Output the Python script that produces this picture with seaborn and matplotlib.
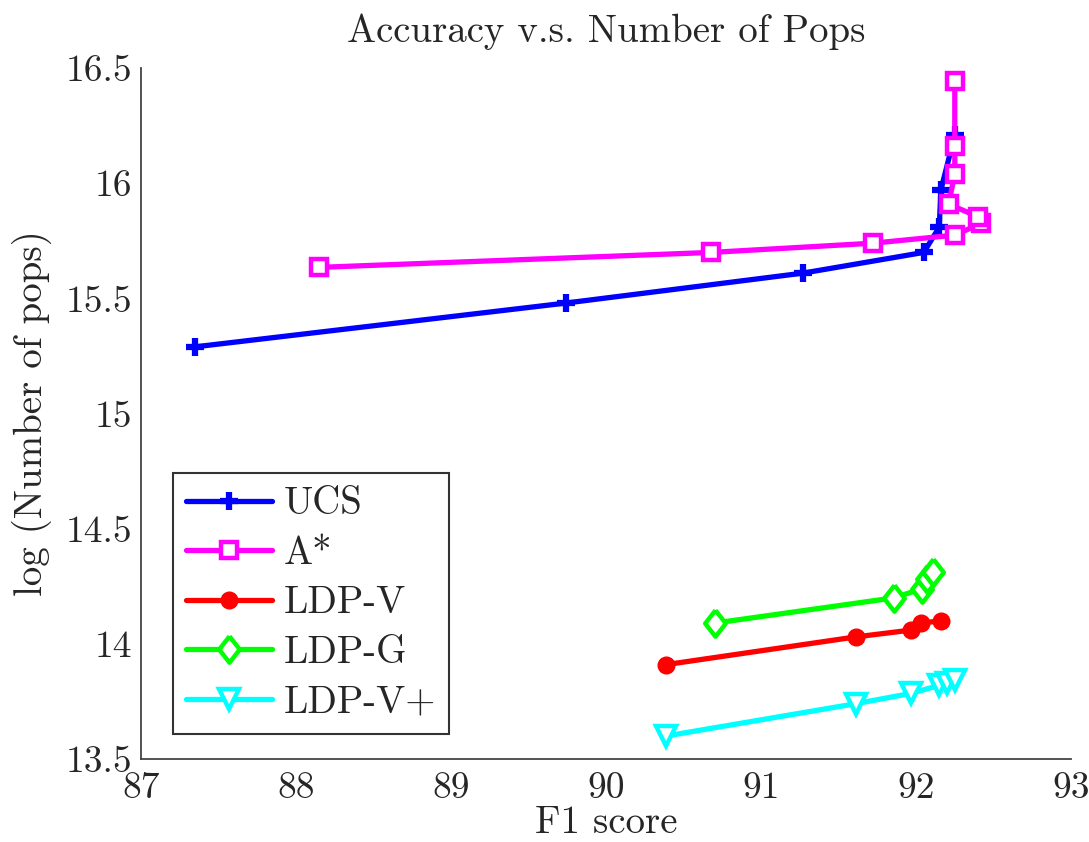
import matplotlib
matplotlib.use("Agg")
import matplotlib.pyplot as plt
import seaborn as sns
import pandas as pd

# F1 score vs. log(number of pops) for each search strategy
ucs_f1 = [87.35, 89.74, 91.27, 92.05, 92.15, 92.16, 92.25]
ucs_pops = [15.29, 15.48, 15.61, 15.70, 15.81, 15.97, 16.21]

astar_f1 = [88.15, 90.68, 91.72, 92.25, 92.42, 92.40, 92.21, 92.25, 92.25, 92.25]
astar_pops = [15.635, 15.70, 15.74, 15.775, 15.826, 15.855, 15.91, 16.04, 16.16, 16.445]

ldpv_f1 = [90.39, 91.61, 91.97, 92.03, 92.16]
ldpv_pops = [13.91, 14.03, 14.06, 14.09, 14.10]

ldpg_f1 = [90.70, 91.86, 92.04, 92.07, 92.11]
ldpg_pops = [14.09, 14.20, 14.24, 14.28, 14.31]

ldpvp_f1 = [90.39, 91.61, 91.97, 92.15, 92.20, 92.25]
ldpvp_pops = [13.60, 13.74, 13.785, 13.82, 13.83, 13.845]

series = [
    ("UCS", ucs_f1, ucs_pops),
    ("A*", astar_f1, astar_pops),
    ("LDP-V", ldpv_f1, ldpv_pops),
    ("LDP-G", ldpg_f1, ldpg_pops),
    ("LDP-V+", ldpvp_f1, ldpvp_pops),
]

x_ticks = [87, 88, 89, 90, 91, 92, 93]
y_ticks = [13.5, 14, 14.5, 15, 15.5, 16, 16.5]

sns.set_style("white")
plt.rcParams["font.family"] = ["cmr10", "DejaVu Serif"]
plt.rcParams["axes.formatter.use_mathtext"] = True
plt.rcParams["mathtext.fontset"] = "cm"

# tall, narrow diamond
diamond = [(0, 1), (0.78, 0), (0, -1), (-0.78, 0), (0, 1)]

styles = {
    "UCS": dict(color="#0000ff", marker="+", ms=13, mew=4.5, mfc="#0000ff"),
    "A*": dict(color="#ff00ff", marker="s", ms=12, mew=3.2, mfc="white"),
    "LDP-V": dict(color="#ff0000", marker="o", ms=12, mew=1, mfc="#ff0000"),
    "LDP-G": dict(color="#00ff00", marker=diamond, ms=19, mew=3.2, mfc="white"),
    "LDP-V+": dict(color="#00ffff", marker="v", ms=15, mew=3.2, mfc="white"),
}

fig = plt.figure(figsize=(10.89, 8.42), dpi=100)
ax = fig.add_axes([0.1295, 0.0986, 0.854, 0.8204])

for name, f1, pops in series:
    df = pd.DataFrame({"F1": f1, "pops": pops})
    st = styles[name]
    # keep the points in recorded order, without averaging repeated x values
    sns.lineplot(
        data=df, x="F1", y="pops", ax=ax, sort=False, estimator=None,
        label=name, color=st["color"], linewidth=3.8, marker=st["marker"],
        markersize=st["ms"], markeredgewidth=st["mew"],
        markeredgecolor=st["color"], markerfacecolor=st["mfc"],
    )

ax.set_xlim(87, 93)
ax.set_ylim(13.5, 16.5)
ax.set_xticks(x_ticks)
ax.set_yticks(y_ticks)
ax.set_xticklabels([f"{v:g}" for v in x_ticks])
ax.set_yticklabels([f"{v:g}" for v in y_ticks])

for side in ("top", "right"):
    ax.spines[side].set_visible(False)
for side in ("left", "bottom"):
    ax.spines[side].set_color("#444444")
    ax.spines[side].set_linewidth(1.3)

ax.tick_params(axis="both", direction="in", length=9, width=1.2,
               color="#222222", labelsize=27, pad=6)
ax.tick_params(axis="x", pad=9)

ax.set_xlabel("F1 score", fontsize=28, labelpad=0)
ax.set_ylabel("log (Number of pops)", fontsize=28, labelpad=10)
ax.set_title("Accuracy v.s. Number of Pops", fontsize=28, pad=19)

leg = ax.legend(loc="upper left", bbox_to_anchor=(0.034, 0.414),
                borderaxespad=0, fontsize=28, handlelength=2.2,
                handletextpad=0.3, labelspacing=0.35, borderpad=0.35,
                fancybox=False, frameon=True)
leg.get_frame().set_edgecolor("black")
leg.get_frame().set_linewidth(1.5)

fig.savefig("out.png", dpi=100)
